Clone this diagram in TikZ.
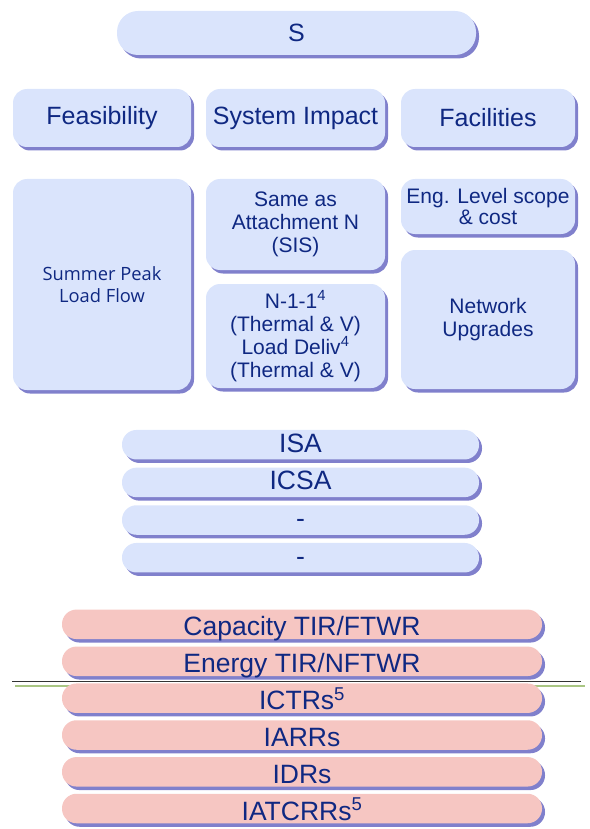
\documentclass[tikz,border=0pt]{standalone}
\usepackage{fontspec}
\setmainfont{Liberation Sans}
\newfontfamily\spfont{Open Sans}
\usetikzlibrary{shadows}
\definecolor{bluefill}{RGB}{218,228,252}
\definecolor{pinkfill}{RGB}{246,198,194}
\definecolor{shadowc}{RGB}{128,128,204}
\definecolor{txtc}{RGB}{15,40,130}
\definecolor{greenl}{RGB}{170,198,132}
\tikzset{
  base/.style={draw=none, inner sep=0pt, align=center, text=txtc,
    drop shadow={shadow xshift=3pt, shadow yshift=-3.5pt, fill=shadowc, opacity=1}},
  bigbox/.style={base, fill=bluefill, rounded corners=14pt},
  topbox/.style={base, fill=bluefill, rounded corners=21pt, font=\fontsize{25}{28}\selectfont},
  headbox/.style={bigbox, font=\fontsize{25}{28}\selectfont},
  txtbox/.style={bigbox, font=\fontsize{21}{23}\selectfont},
  bluebar/.style={base, fill=bluefill, rounded corners=14.5pt, minimum width=357pt, minimum height=29.5pt,
    text height=15pt, text depth=0pt, font=\fontsize{26.5}{28}\selectfont},
  pinkbar/.style={base, fill=pinkfill, rounded corners=14.5pt, minimum width=480pt, minimum height=29.5pt,
    text height=23pt, text depth=0pt, font=\fontsize{26.5}{28}\selectfont},
}
\begin{document}
\begin{tikzpicture}[x=1pt,y=1pt]
\useasboundingbox (0,0) rectangle (589,-829);
% top
\node[topbox, minimum width=359pt, minimum height=44pt] (s) at (296.5,-33) {S};
% headers
\node[headbox, minimum width=178pt, minimum height=58pt] (feas) at (102,-118) {Feasibility};
\node[headbox, minimum width=179pt, minimum height=58pt] (sysimp) at (295.5,-118) {System Impact};
\node[headbox, minimum width=174pt, minimum height=58pt] (fac) at (488,-118) {Facilities};
% content
\node[bigbox, minimum width=178pt, minimum height=211pt, font=\spfont\fontsize{18.3}{21.5}\selectfont] (summer) at (102,-284.5) {Summer Peak\\Load Flow};
\node[txtbox, minimum width=179pt, minimum height=91pt] (same) at (295.5,-224.5) {Same as\\Attachment N\\(SIS)};
\node[txtbox, minimum width=179pt, minimum height=104pt] (n11) at (295.5,-336) {N-1-1\textsuperscript{4}\\(Thermal \& V)\\Load Deliv\textsuperscript{4}\\(Thermal \& V)};
\node[txtbox, minimum width=174pt, minimum height=55pt, font=\fontsize{21}{21}\selectfont] (eng) at (488,-206.5) {Eng. Level scope\\\& cost};
\node[txtbox, minimum width=174pt, minimum height=139pt] (netw) at (488,-319.5) {Network\\Upgrades};
% blue bars
\node[bluebar] (isa) at (300.5,-444.7) {ISA};
\node[bluebar] (icsa) at (300.5,-482.4) {ICSA};
\node[bluebar] (dash1) at (300.5,-520) {-};
\node[bluebar] (dash2) at (300.5,-557.7) {-};
% green line behind
\coordinate (gl) at (15,-686);
\coordinate (gr) at (585,-686);
\draw[greenl, line width=2pt] (gl) -- (gr);
% pink bars
\node[pinkbar] (cap) at (302,-624.3) {Capacity TIR/FTWR};
\node[pinkbar] (energy) at (302,-661.3) {Energy TIR/NFTWR};
\node[pinkbar] (ictr) at (302,-698.2) {ICTRs\textsuperscript{5}};
\node[pinkbar] (iarr) at (302,-735) {IARRs};
\node[pinkbar] (idr) at (302,-771.8) {IDRs};
\node[pinkbar] (iatcrr) at (302,-808.5) {IATCRRs\textsuperscript{5}};
% black rule
\coordinate (bl) at (12,-681);
\coordinate (br) at (581,-681);
\draw[black!80, line width=0.8pt] (bl) -- (br);
\end{tikzpicture}
\end{document}
